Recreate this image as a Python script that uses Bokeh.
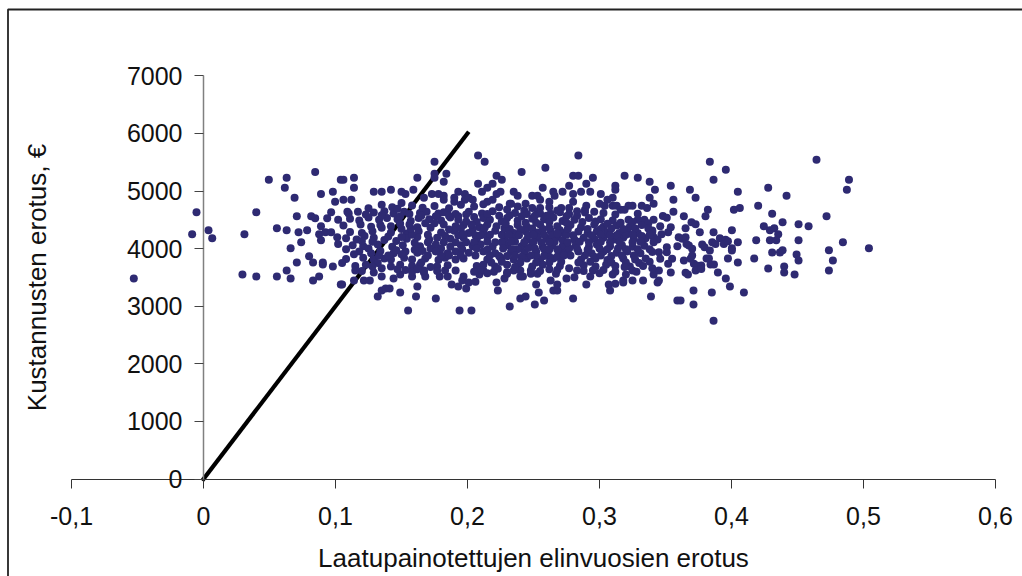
from bokeh.plotting import figure
from bokeh.models import Range1d, FixedTicker
from bokeh.embed import file_html
from bokeh.resources import INLINE

FONT = "Liberation Sans"
x_ticks = [-0.1, 0, 0.1, 0.2, 0.3, 0.4, 0.5, 0.6]
x_labels = ["-0,1", "0", "0,1", "0,2", "0,3", "0,4", "0,5", "0,6"]
y_ticks = [0, 1000, 2000, 3000, 4000, 5000, 6000, 7000]
threshold_x = [0, 0.2]
threshold_y = [0, 6000]

left_cloud = [(-.0528,3481),(-.0053,4632),(-.0086,4250),(.0038,4320),(.0066,4181),(.031,4250),(.0295,3550),(.040,3515),
(.040,4632),(.0495,5194),(.063,5228),(.0616,5055),(.069,4881),(.0556,4354),(.063,4320),(.0707,4563),(.072,4285),(.0785,4320),
(.074,4111),(.066,4007),(.0707,3758),(.080,3868),(.083,3758),(.0904,3758),(.0904,3724),(.098,3689),(.063,3620),(.0556,3515),
(.066,3481),(.083,3446),(.0876,3515),(.104,3376),(.0846,5332),(.089,4950),(.098,4985),(.0997,4812),(.0967,4632),(.0937,4528),
(.0816,4563),(.0846,4528),(.089,4389),(.0876,4250),(.0924,4285),(.0967,4285),(.089,4146),(.1013,4198),(.102,4082),(.102,4500),(.104,5194)]

upper_edge = [(.106,5194),(.114,5228),(.114,5055),(.106,4846),(.112,4846),(.129,4985),(.135,4985),(.142,5020),(.150,4985),(.153,4950),
(.159,5020),(.162,5228),(.175,5506),(.175,5298),(.175,5228),(.184,5298),(.182,5159),(.167,4881),(.173,4950),(.178,4950),(.182,4916),
(.182,4846),(.193,4985),(.190,4881),(.190,4812),(.198,4950),(.198,4846),(.201,4881),(.204,4846),(.208,5616),(.213,5506),(.222,5263),
(.226,5194),(.208,5124),(.211,4985),(.215,5055),(.219,5124),(.225,4985),(.222,4950),(.219,4846),(.215,4812),(.241,5332),(.259,5402),
(.284,5616),(.280,5263),(.284,5263),(.295,5228),(.290,5124),(.277,5089),(.272,4985),(.265,4985),(.266,4916),(.257,5055),(.235,4985),
(.238,4916),(.232,4777),(.233,4777),(.249,4916),(.253,4916),(.255,4846),(.262,4812),(.319,5263),(.329,5228),(.338,5159),(.342,5020),
(.354,5089),(.356,4846),(.312,5089),(.312,5020),(.301,4950),(.293,4985),(.286,4985),(.280,4950),(.280,4812),(.310,4881),(.306,4846),
(.300,4777),(.304,4742),(.310,4742),(.313,4742),(.322,4742),(.325,4742),(.332,4742),(.338,4881),(.341,4777),(.336,4707),(.356,4638),
(.348,4568),(.351,4534),(.316,4673),(.319,4673),(.329,4603),(.322,4499),(.329,4499),(.334,4499),(.341,4499),(.290,4742),(.289,4673),
(.277,4707),(.271,4707),(.263,4603),(.255,4707),(.249,4707),(.244,4777),(.243,4661)]

lower_edge = [(.105,3376),(.114,3446),(.1215,3446),(.126,3446),(.129,3585),(.135,3515),(.144,3481),(.149,3550),(.158,3515),(.167,3585),
(.168,3515),(.179,3515),(.185,3515),(.191,3620),(.162,3342),(.132,3168),(.135,3272),(.138,3307),(.141,3307),(.149,3237),(.161,3168),
(.176,3133),(.155,2925),(.194,2925),(.203,2925),(.188,3376),(.193,3342),(.197,3515),(.196,3446),(.199,3307),(.201,3411),(.206,3423),
(.209,3550),(.212,3620),(.222,3411),(.223,3272),(.232,2994),(.240,3133),(.244,3168),(.251,3029),(.258,3099),(.254,3237),(.252,3376),
(.265,3272),(.268,3272),(.268,3376),(.263,3446),(.280,3133),(.275,3481),(.281,3504),(.290,3376),(.293,3515),(.307,3376),(.312,3388),
(.308,3272),(.318,3411),(.318,3446),(.325,3446),(.333,3446),(.339,3168),(.344,3411),(.345,3446),(.359,3099),(.354,3585),(.341,3550),
(.345,3620),(.228,3481),(.230,3562),(.235,3620),(.240,3515),(.242,3515),(.248,3562),(.253,3562),(.267,3562)]

right_cloud = [(.3836,5506),(.3957,5367),(.3864,5194),(.3685,5020),(.3728,4881),(.4048,4985),(.4278,5055),(.4417,4916),(.4644,5541),
(.489,5194),(.4874,5020),(.4202,4742),(.4063,4707),(.4018,4673),(.3821,4673),(.3803,4563),(.3639,4563),(.4308,4603),(.4720,4563),
(.4387,4459),(.4508,4424),(.4584,4389),(.4245,4389),(.4291,4320),(.4324,4354),(.4354,4250),(.3697,4459),(.3728,4424),(.3652,4354),
(.3760,4285),(.3864,4285),(.4003,4320),(.4187,4146),(.4048,4111),(.4291,4146),(.4339,4146),(.4508,4146),(.4844,4111),(.5041,4007),
(.4738,3972),(.4768,3793),(.4738,3620),(.4308,3932),(.4367,3932),(.4387,3972),(.4493,3897),(.4508,3793),(.4172,3828),(.4048,3758),
(.3973,3828),(.4003,4007),(.4003,3967),(.4278,3654),(.4399,3689),(.4399,3585),(.4478,3550),(.3897,3585),(.3957,3481),(.3988,3342),
(.4094,3237),(.3851,3237),(.3712,3272),(.3712,3029),(.3864,2746),(.3614,3099),(.3652,4198),(.3627,4169),(.3659,4082),(.3677,4053),
(.3702,3996),(.3778,4071),(.3796,4024),(.3836,3967),(.3854,4111),(.3879,4082),(.3912,4181),(.3955,4152),(.3942,4082),(.3973,4129),
(.3639,3793),(.3690,3822),(.3702,3880),(.3715,3735),(.3735,3706),(.3728,3620),(.3771,3706),(.3771,3648),(.3811,3828),(.3829,3828),
(.3841,3724),(.3867,3724),(.3652,3579),(.3670,3550),(.360,4198),(.359,4042),(.354,4370),(.352,4285),(.347,4250),(.355,3822),(.352,3735),
(.351,4024),(.351,3938),(.345,3938),(.346,3822),(.340,4314),(.341,4198)]

core_band_a = [(.109,4640),(.110,4610),(.129,4625),(.137,4650),(.144,4610),(.152,4640),(.156,4600),(.164,4620),(.169,4640),(.178,4610),
(.182,4630),(.191,4600),(.201,4640),(.211,4610),(.219,4650),(.236,4620),(.245,4600),(.253,4640),(.255,4610),(.270,4630),(.277,4600),(.289,4625),
(.111,4520),(.118,4490),(.125,4540),(.133,4500),(.139,4530),(.147,4510),(.157,4480),(.163,4530),(.171,4510),(.180,4490),(.187,4540),(.193,4500),
(.212,4530),(.217,4500),(.230,4530),(.238,4490),(.249,4520),(.258,4510),(.265,4540),(.281,4500),(.292,4530),(.301,4510),(.310,4490),
(.106,4400),(.119,4420),(.127,4380),(.134,4410),(.142,4390),(.149,4430),(.162,4370),(.182,4420),(.191,4390),(.197,4410),(.209,4370),(.215,4420),
(.222,4390),(.238,4410),(.245,4380),(.255,4420),(.268,4390),(.278,4410),(.286,4370),(.296,4420),(.303,4380),(.313,4400),(.323,4380),(.332,4410),(.346,4390),
(.111,4290),(.120,4270),(.128,4300),(.142,4280),(.154,4260),(.163,4300),(.180,4280),(.190,4310),(.201,4270),(.212,4290),(.221,4310),(.235,4270),
(.244,4300),(.253,4280),(.263,4310),(.273,4270),(.284,4295),(.291,4260),(.298,4300),(.306,4280),(.315,4270),(.321,4300),(.329,4270),(.340,4290)]

core_band_b = [(.108,4180),(.116,4160),(.129,4190),(.137,4150),(.154,4170),(.162,4200),(.171,4160),(.177,4190),(.187,4170),(.197,4190),(.207,4160),
(.215,4200),(.228,4170),(.234,4190),(.245,4160),(.253,4190),(.260,4170),(.268,4200),(.281,4160),(.288,4190),(.296,4170),(.303,4190),(.311,4160),
(.318,4190),(.326,4170),(.335,4180),(.344,4160),
(.113,4060),(.121,4040),(.132,4070),(.143,4030),(.151,4060),(.164,4040),(.176,4070),(.187,4030),(.195,4060),(.204,4040),(.210,4070),(.219,4030),
(.230,4060),(.241,4040),(.249,4070),(.257,4030),(.264,4060),(.272,4040),(.282,4060),(.292,4030),(.298,4070),(.308,4040),(.317,4060),(.325,4030),(.334,4050),
(.118,3950),(.127,3920),(.134,3960),(.144,3920),(.153,3950),(.162,3930),(.166,3960),(.185,3920),(.191,3950),(.201,3930),(.212,3950),(.221,3920),
(.233,3950),(.243,3930),(.252,3950),(.260,3920),(.269,3950),(.274,3930),(.284,3950),(.294,3920),(.303,3950),(.313,3930),(.321,3950),(.331,3920),(.340,3940),
(.108,3820),(.121,3840),(.129,3810),(.137,3830),(.142,3810),(.152,3840),(.158,3810),(.168,3830),(.178,3800),(.183,3840),(.191,3810),(.197,3830),
(.215,3810),(.225,3840),(.235,3810),(.245,3830),(.255,3800),(.265,3830),(.286,3810),(.297,3830),(.306,3800),(.318,3830),(.327,3810),(.335,3830)]

core_band_c = [(.115,3700),(.123,3720),(.142,3690),(.149,3720),(.158,3700),(.164,3720),(.177,3690),(.185,3710),(.207,3700),(.212,3720),(.221,3690),
(.230,3720),(.238,3700),(.249,3690),(.257,3720),(.270,3700),(.288,3710),(.297,3690),(.305,3720),(.312,3700),(.323,3690),
(.115,3620),(.120,3610),(.153,3630),(.158,3600),(.167,3620),(.177,3610),(.209,3630),(.220,3600),(.240,3620),(.255,3610),(.268,3630),(.288,3610),(.303,3630),(.312,3600),(.325,3620)]

core_centre = [(.240,4330),(.246,4230),(.250,4120),(.246,4010),(.252,3880),(.257,4340),(.258,4240),(.256,4110),(.258,3990),(.262,3860),(.264,4230),
(.266,4120),(.262,3985),(.270,4320),(.272,4150),(.268,3860),(.275,4240),(.277,4000),(.278,3880),(.236,4120),(.238,3990),(.241,3860),(.226,4240),
(.226,4110),(.224,3870),(.217,4240),(.206,4230),(.199,4110),(.193,4230),(.186,3880),(.308,4110),(.314,4000),(.320,4240),(.300,4000),(.296,3860),(.313,4230),(.325,4110)]

core_fill = [(.193,4560),(.199,4470),(.205,4550),(.207,4460),(.224,4570),(.226,4470),(.232,4580),(.241,4560),(.244,4450),(.251,4570),(.260,4570),(.262,4460),
(.272,4480),(.275,4560),(.283,4570),(.287,4460),(.297,4470),(.306,4430),(.316,4450),(.325,4460),(.337,4440),(.195,4350),(.204,4340),(.213,4360),(.228,4350),
(.232,4340),(.249,4350),(.262,4360),(.276,4340),(.291,4340),(.301,4340),(.309,4350),(.318,4340),(.327,4350),(.337,4350),(.183,4220),(.197,4250),(.210,4230),
(.231,4240),(.239,4230),(.250,4240),(.268,4260),(.280,4230),(.294,4230),(.301,4240),(.308,4230),(.325,4240),(.332,4220),(.338,4240),(.191,4110),(.205,4110),
(.215,4120),(.221,4110),(.233,4120),(.243,4110),(.262,4110),(.276,4110),(.285,4120),(.292,4110),(.301,4120),(.315,4120),(.331,4120),(.341,4110),(.196,3990),
(.207,4000),(.215,3980),(.227,4000),(.234,3990),(.251,4000),(.268,3990),(.283,4000),(.291,3980),(.306,3990),(.320,3990),(.329,3990),(.338,3990),(.180,3880),
(.195,3880),(.206,3880),(.217,3880),(.230,3870),(.236,3880),(.248,3880),(.258,3870),(.273,3880),(.289,3880),(.301,3880),(.309,3870),(.317,3880),(.326,3880),
(.218,3760),(.226,3770),(.240,3760),(.252,3760),(.262,3760),(.271,3770),(.284,3760),(.293,3770),(.309,3760),(.320,3760),(.330,3750),(.150,4200),(.160,4100),
(.170,4110),(.182,4110),(.160,3980),(.172,4000),(.180,4000),(.170,3880),(.150,3900),(.165,3760),(.186,4330),(.172,4360),(.128,4120),(.122,4220),(.140,3880),(.132,3750)]

core_outer = [(.135,4760),(.143,4720),(.150,4790),(.158,4750),(.147,4690),(.166,4710),(.175,4740),(.186,4700),(.195,4760),(.205,4730),(.212,4770),(.224,4720),
(.230,4680),(.238,4730),(.262,4720),(.268,4660),(.283,4650),(.296,4640),(.303,4620),(.312,4590),(.125,4700),(.117,4640),(.123,4590),(.135,4580),(.149,4560),
(.165,4570),(.176,4560),(.186,4570),(.199,4590),(.215,4600),(.230,3590),(.215,3570),(.205,3600),(.183,3620),(.172,3680),(.162,3640),(.147,3640),(.135,3660),
(.128,3690),(.248,3620),(.262,3640),(.277,3660),(.295,3620),(.319,3680),(.333,3700),(.340,3660),(.223,3650),(.236,3680),(.283,3620),(.300,3570),(.310,3550),
(.320,3550),(.328,3600),(.338,3770),(.133,3880),(.176,3950),(.158,4240),(.170,4240),(.146,4130),(.120,4130),(.140,4210),(.146,3970),(.125,4000),(.114,3900),
(.108,3990),(.105,3750),(.135,4360),(.157,4350),(.150,4340),(.175,4440),(.168,4440),(.156,4420),(.203,4420),(.229,4430),(.252,4450),(.275,4450)]

groups = [left_cloud, upper_edge, lower_edge, right_cloud, core_band_a, core_band_b, core_band_c, core_centre, core_fill, core_outer]
pts = [pt for g in groups for pt in g]
xs = [pt[0] for pt in pts]
ys = [pt[1] for pt in pts]

# The frame fills the figure; the axes sit at x=0 and y=0 inside it.
p = figure(width=1022, height=576, output_backend="svg", toolbar_location=None,
           x_range=Range1d(-203 / 1320, 819 / 1320), y_range=Range1d(-97.5 / 0.0576, 478.5 / 0.0576),
           min_border_left=0, min_border_right=0, min_border_top=0, min_border_bottom=0,
           background_fill_color="white", border_fill_color="white")
p.outline_line_color = None
p.grid.visible = False

# page frame: left and top edges only, the rest falls outside the picture
p.line([-195.5 / 1320, -195.5 / 1320, 0.63], [-1800, 469.5 / 0.0576, 469.5 / 0.0576],
       line_color="#222222", line_width=1.8)

p.line(threshold_x, threshold_y, line_color="black", line_width=4.2, line_cap="square")
p.scatter(xs, ys, size=8, color="#2E2A72", line_color=None)

xa = p.xaxis[0]
xa.fixed_location = 0
xa.bounds = (-0.1, 0.6)
xa.ticker = FixedTicker(ticks=x_ticks)
xa.major_label_overrides = dict(zip(x_ticks, x_labels))
xa.axis_label = "Laatupainotettujen elinvuosien erotus"
xa.axis_label_standoff = 14
xa.major_label_standoff = 19
xa.major_tick_in = 0
xa.major_tick_out = 9
xa.minor_tick_line_color = None
xa.axis_line_color = "#333333"
xa.major_tick_line_color = "#333333"

ya = p.yaxis[0]
ya.fixed_location = 0
ya.bounds = (0, 7000)
ya.ticker = FixedTicker(ticks=y_ticks)
ya.axis_label = "Kustannusten erotus, €"
ya.axis_label_standoff = 72
ya.major_label_standoff = 12
ya.major_tick_in = 0
ya.major_tick_out = 9
ya.minor_tick_line_color = None
ya.axis_line_color = "#808080"
ya.axis_line_width = 1.5
ya.major_tick_line_color = "#444444"

for a in (xa, ya):
    a.major_label_text_font = FONT
    a.axis_label_text_font = FONT
    a.major_label_text_font_size = "25px"
    a.axis_label_text_font_size = "26px"
    a.axis_label_text_font_style = "normal"
    a.major_label_text_color = "#111111"
    a.axis_label_text_color = "#111111"

open("out.html", "w").write(file_html(p, INLINE))
